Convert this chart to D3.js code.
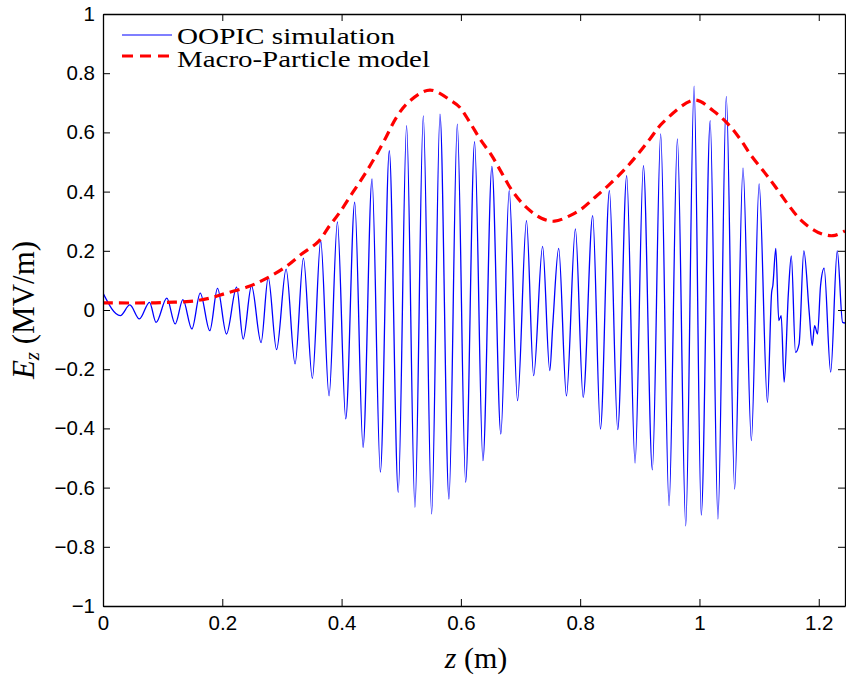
<!DOCTYPE html>
<html>
<head>
<meta charset="utf-8">
<script src="https://cdn.jsdelivr.net/npm/d3@7"></script>
<style>
  body { margin: 0; background: #fff; }
  .tick text { font-family: "Liberation Sans", Arial, sans-serif; font-size: 20.5px; fill: #000; }
</style>
</head>
<body>
<div id="chart"></div>
<script>
// OOPIC simulation: extrema (and a few kinks)
var oopicZ = [0.000, 0.029, 0.045, 0.061, 0.078, 0.089, 0.107, 0.121, 0.134, 0.149,
  0.163, 0.179, 0.192, 0.207, 0.224, 0.235, 0.249, 0.265, 0.277, 0.291,
  0.307, 0.322, 0.336, 0.351, 0.365, 0.379, 0.393, 0.407, 0.422, 0.436,
  0.451, 0.465, 0.480, 0.495, 0.509, 0.523, 0.537, 0.551, 0.565, 0.580,
  0.594, 0.608, 0.623, 0.637, 0.652, 0.667, 0.681, 0.695, 0.710, 0.722,
  0.737, 0.749, 0.754, 0.764, 0.777, 0.792, 0.805, 0.821, 0.834, 0.849,
  0.863, 0.878, 0.892, 0.906, 0.921, 0.935, 0.949, 0.963, 0.977, 0.991,
  1.003, 1.018, 1.031, 1.045, 1.059, 1.073, 1.087, 1.100, 1.114, 1.121,
  1.123, 1.128, 1.133, 1.137, 1.142, 1.149, 1.154, 1.161, 1.167, 1.175,
  1.184, 1.189, 1.193, 1.198, 1.203, 1.209, 1.220, 1.231, 1.240, 1.244];
var oopicE = [0.057, -0.019, 0.017, -0.030, 0.026, -0.042, 0.040, -0.047, 0.035, -0.064,
  0.057, -0.070, 0.073, -0.081, 0.077, -0.098, 0.082, -0.110, 0.110, -0.134,
  0.138, -0.182, 0.175, -0.231, 0.234, -0.290, 0.298, -0.368, 0.364, -0.464,
  0.443, -0.548, 0.538, -0.616, 0.623, -0.667, 0.656, -0.689, 0.662, -0.639,
  0.628, -0.582, 0.569, -0.509, 0.485, -0.419, 0.403, -0.306, 0.302, -0.222,
  0.215, -0.205, -0.053, 0.208, -0.290, 0.274, -0.295, 0.319, -0.402, 0.403,
  -0.404, 0.454, -0.517, 0.488, -0.540, 0.595, -0.661, 0.578, -0.729, 0.756,
  -0.693, 0.640, -0.706, 0.722, -0.605, 0.479, -0.441, 0.426, -0.312, 0.060,
  0.082, 0.208, -0.036, -0.019, -0.244, 0.054, 0.183, -0.143, -0.115, 0.200,
  -0.008, -0.120, -0.053, -0.081, 0.082, 0.141, -0.210, 0.200, -0.042, -0.044];

// Macro-particle model envelope
var modelZ = [0.000, 0.079, 0.107, 0.146, 0.179, 0.207, 0.244, 0.274, 0.305, 0.333,
  0.361, 0.380, 0.397, 0.419, 0.439, 0.456, 0.473, 0.492, 0.512, 0.548,
  0.585, 0.598, 0.615, 0.632, 0.651, 0.668, 0.685, 0.707, 0.735, 0.757,
  0.783, 0.802, 0.825, 0.850, 0.875, 0.897, 0.917, 0.939, 0.992, 1.023,
  1.048, 1.068, 1.087, 1.109, 1.126, 1.148, 1.171, 1.199, 1.224, 1.244];
var modelE = [0.024, 0.024, 0.026, 0.029, 0.040, 0.057, 0.079, 0.107, 0.144, 0.189,
  0.231, 0.285, 0.330, 0.398, 0.459, 0.516, 0.578, 0.651, 0.702, 0.743,
  0.705, 0.685, 0.634, 0.578, 0.524, 0.465, 0.406, 0.352, 0.310, 0.300,
  0.319, 0.341, 0.381, 0.426, 0.476, 0.527, 0.578, 0.634, 0.709, 0.673,
  0.628, 0.578, 0.521, 0.465, 0.420, 0.358, 0.302, 0.262, 0.251, 0.267];

var xTicks = [0, 0.2, 0.4, 0.6, 0.8, 1, 1.2];
var yTicks = [-1, -0.8, -0.6, -0.4, -0.2, 0, 0.2, 0.4, 0.6, 0.8, 1];
var seriesNames = ["OOPIC simulation", "Macro-Particle model"];

var margin = { top: 14, right: 1, bottom: 77, left: 103 }
    , width = 846 - margin.left - margin.right
    , height = 683 - margin.top - margin.bottom;

var svg = d3.select("#chart")
    .append("svg")
    .attr("width", 846)
    .attr("height", 683)
    .append("g")
    .attr("transform", "translate(" + margin.left + "," + margin.top + ")");

var xScale = d3.scaleLinear().domain([0, 1.244]).range([0, width]);
var yScale = d3.scaleLinear().domain([-1, 1]).range([height, 0]);
var fmt = d3.format("~g");

svg.append("clipPath").attr("id", "clip")
    .append("rect").attr("width", width).attr("height", height);

var oopic = oopicZ.map(function (z, i) { return [z, oopicE[i]]; });
var model = modelZ.map(function (z, i) { return [z, modelE[i]]; });

var plot = svg.append("g").attr("clip-path", "url(#clip)");

plot.append("path")
    .datum(oopic)
    .attr("fill", "none")
    .attr("stroke", "#0000ff")
    .attr("stroke-width", 1.3)
    .attr("d", d3.line()
        .curve(d3.curveMonotoneX)
        .x(function (d) { return xScale(d[0]) })
        .y(function (d) { return yScale(d[1]) }));

plot.append("path")
    .datum(model)
    .attr("fill", "none")
    .attr("stroke", "#ff0000")
    .attr("stroke-width", 3.2)
    .attr("stroke-dasharray", "10,6")
    .attr("d", d3.line()
        .curve(d3.curveCatmullRom)
        .x(function (d) { return xScale(d[0]) })
        .y(function (d) { return yScale(d[1]) }));

// axes, matlab style: box with inward ticks
svg.append("g")
    .attr("transform", "translate(0," + height + ")")
    .call(d3.axisBottom(xScale).tickValues(xTicks).tickFormat(fmt).tickSizeInner(-7).tickSizeOuter(0).tickPadding(9));
svg.append("g")
    .call(d3.axisTop(xScale).tickValues(xTicks).tickFormat("").tickSizeInner(-7).tickSizeOuter(0));
svg.append("g")
    .call(d3.axisLeft(yScale).tickValues(yTicks).tickFormat(fmt).tickSizeInner(-7).tickSizeOuter(0).tickPadding(8));
svg.append("g")
    .attr("transform", "translate(" + width + ",0)")
    .call(d3.axisRight(yScale).tickValues(yTicks).tickFormat("").tickSizeInner(-7).tickSizeOuter(0));
svg.selectAll(".domain").attr("stroke", "#000").attr("stroke-width", 1.3);
svg.selectAll(".tick line").attr("stroke", "#000");

// x label
var xl = svg.append("text")
    .attr("text-anchor", "middle")
    .attr("transform", "translate(" + (width / 2 + 2) + "," + (height + 62) + ")")
    .style("font", "30px 'Liberation Serif', serif");
xl.append("tspan").style("font-style", "italic").text("z");
xl.append("tspan").text(" (m)");

// y label
var yl = svg.append("text")
    .attr("text-anchor", "middle")
    .attr("transform", "translate(" + (-69) + "," + (yScale(0)) + ")rotate(-90)")
    .style("font", "31px 'Liberation Serif', serif");
yl.append("tspan").style("font-style", "italic").text("E");
yl.append("tspan").style("font-style", "italic").style("font-size", "21px").attr("dy", 5).text("z");
yl.append("tspan").attr("dy", -5).text(" (MV/m)");

// legend
var legend = svg.append("g").attr("transform", "translate(19,21)");
legend.append("line")
    .attr("x1", 0).attr("x2", 50).attr("y1", 0).attr("y2", 0)
    .attr("stroke", "#0000ff").attr("stroke-width", 1.2);
legend.append("line")
    .attr("x1", 0).attr("x2", 50).attr("y1", 21).attr("y2", 21)
    .attr("stroke", "#ff0000").attr("stroke-width", 3.2).attr("stroke-dasharray", "11,7");
var legendWidths = [218, 253];
legend.selectAll("text.lab")
    .data(seriesNames)
    .enter().append("text")
    .attr("class", "lab")
    .attr("x", 55)
    .attr("y", function (d, i) { return 9 + i * 23 })
    .attr("textLength", function (d, i) { return legendWidths[i] })
    .attr("lengthAdjust", "spacingAndGlyphs")
    .style("font", "24px 'Liberation Serif', serif")
    .text(function (d) { return d });
</script>
</body>
</html>
